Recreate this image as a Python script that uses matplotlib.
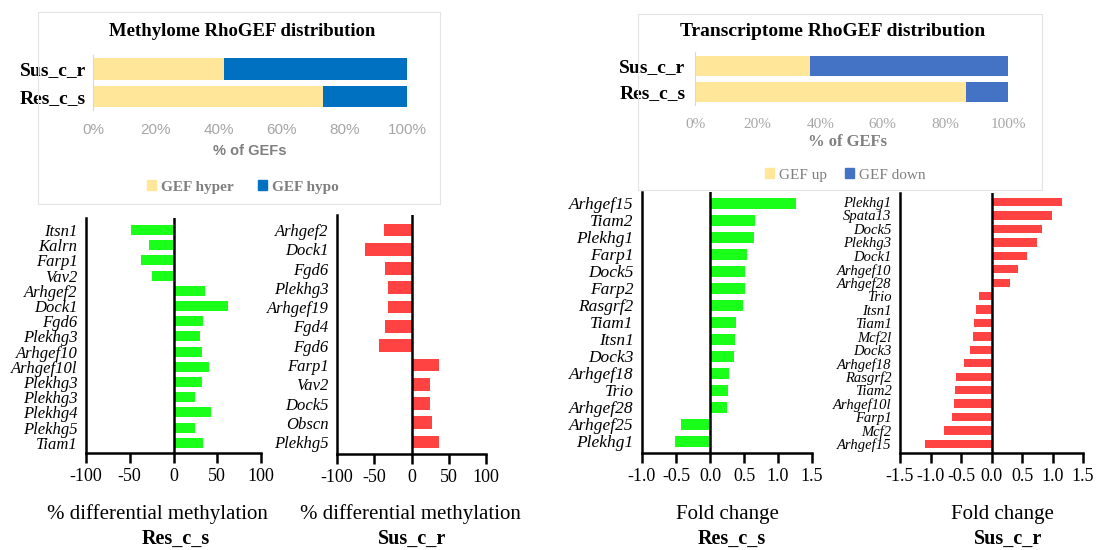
import matplotlib
matplotlib.use("Agg")
import matplotlib.pyplot as plt
from matplotlib.patches import Rectangle, Patch

W, H = 1098, 550
SERIF = "Liberation Serif"
SANS = "Liberation Sans"

# ---- summary distributions (% of GEFs) ----
groups = ["Res_c_s", "Sus_c_r"]
methyl_hyper = [73.3, 41.7]
methyl_hypo = [26.7, 58.3]
trans_up = [86.7, 36.8]
trans_down = [13.3, 63.2]
pct_ticks = [0, 20, 40, 60, 80, 100]

# ---- differential methylation, Res_c_s ----
res_meth_genes = ["Itsn1", "Kalrn", "Farp1", "Vav2", "Arhgef2", "Dock1", "Fgd6",
                  "Plekhg3", "Arhgef10", "Arhgef10l", "Plekhg3", "Plekhg3",
                  "Plekhg4", "Plekhg5", "Tiam1"]
res_meth_vals = [-49, -28, -37, -25, 36, 62, 34, 30.5, 33, 41, 33, 25, 43, 25, 34]

# ---- differential methylation, Sus_c_r ----
sus_meth_genes = ["Arhgef2", "Dock1", "Fgd6", "Plekhg3", "Arhgef19", "Fgd4", "Fgd6",
                  "Farp1", "Vav2", "Dock5", "Obscn", "Plekhg5"]
sus_meth_vals = [-37, -62, -35, -31, -31.5, -35.5, -43, 36.5, 24.5, 24.5, 28, 36.5]

# ---- fold change, Res_c_s ----
res_fc_genes = ["Arhgef15", "Tiam2", "Plekhg1", "Farp1", "Dock5", "Farp2", "Rasgrf2",
                "Tiam1", "Itsn1", "Dock3", "Arhgef18", "Trio", "Arhgef28",
                "Arhgef25", "Plekhg1"]
res_fc_vals = [1.26, 0.66, 0.65, 0.55, 0.52, 0.51, 0.49, 0.38, 0.37, 0.35,
               0.28, 0.27, 0.245, -0.43, -0.51]

# ---- fold change, Sus_c_r ----
sus_fc_genes = ["Plekhg1", "Spata13", "Dock5", "Plekhg3", "Dock1", "Arhgef10",
                "Arhgef28", "Trio", "Itsn1", "Tiam1", "Mcf2l", "Dock3", "Arhgef18",
                "Rasgrf2", "Tiam2", "Arhgef10l", "Farp1", "Mcf2", "Arhgef15"]
sus_fc_vals = [1.16, 0.99, 0.83, 0.74, 0.59, 0.43, 0.31, -0.20, -0.26, -0.29,
               -0.31, -0.36, -0.45, -0.58, -0.60, -0.61, -0.64, -0.78, -1.09]

YELLOW = "#ffe699"
BLUE_M = "#0070c0"
BLUE_T = "#4472c4"
GREEN = "#19ff19"
RED = "#ff4343"
GRAY_TXT = "#a6a6a6"
GRAY_LBL = "#7f7f7f"

fig = plt.figure(figsize=(W / 100, H / 100), dpi=100)
fig.patch.set_facecolor("white")


def px_axes(x0, y0, x1, y1):
    return fig.add_axes([x0 / W, 1 - y1 / H, (x1 - x0) / W, (y1 - y0) / H])


def fx(x):
    return x / W


def fy(y):
    return 1 - y / H


def frame(x0, y0, x1, y1):
    fig.patches.append(Rectangle((fx(x0), fy(y1)), (x1 - x0) / W, (y1 - y0) / H,
                                 transform=fig.transFigure, fill=False,
                                 edgecolor="#e3e3e3", lw=0.8))


def stacked(ax, first, second, c2, ylim, tick_family, tick_pad):
    pos = [0, 1]
    ax.barh(pos, first, height=0.78, color=YELLOW, edgecolor="none")
    ax.barh(pos, second, left=first, height=0.78, color=c2, edgecolor="none")
    ax.set_xlim(0, 100)
    ax.set_ylim(*ylim)
    ax.set_yticks(pos)
    ax.set_yticklabels(groups, fontfamily=SERIF, fontweight="bold", fontsize=14)
    ax.set_xticks(pct_ticks)
    ax.set_xticklabels([f"{t}%" for t in pct_ticks], fontfamily=tick_family,
                       fontsize=11, color=GRAY_TXT)
    ax.tick_params(axis="both", length=0)
    ax.tick_params(axis="y", pad=tick_pad)
    ax.tick_params(axis="x", pad=9)
    for s in ["top", "right", "bottom"]:
        ax.spines[s].set_visible(False)
    ax.spines["left"].set_color("#d9d9d9")
    ax.spines["left"].set_linewidth(0.8)


# ---- Methylome summary ----
frame(38, 12, 440, 204)
ax = px_axes(93, 55, 407, 110)
stacked(ax, methyl_hyper, methyl_hypo, BLUE_M, (-0.49, 1.51), SANS, 5)
fig.text(fx(242), fy(31), "Methylome RhoGEF distribution", fontfamily=SERIF,
         fontweight="bold", fontsize=13.5, ha="center", va="center")
fig.text(fx(250), fy(151), "% of GEFs", fontfamily=SANS, fontweight="bold",
         fontsize=10.5, color=GRAY_LBL, ha="center", va="center")
leg = fig.legend(handles=[Patch(color=YELLOW, label="GEF hyper"),
                          Patch(color=BLUE_M, label="GEF hypo")],
                 loc="center", bbox_to_anchor=(fx(243), fy(187)), ncol=2,
                 frameon=False, handlelength=0.6, handleheight=0.6,
                 handletextpad=0.3, columnspacing=1.6,
                 prop={"family": SERIF, "weight": "bold", "size": 11})
for t in leg.get_texts():
    t.set_color(GRAY_LBL)

# ---- Transcriptome summary ----
frame(638, 14, 1042, 190)
ax = px_axes(695, 52, 1008, 105)
stacked(ax, trans_up, trans_down, BLUE_T, (-0.5, 1.54), SERIF, 7)
fig.text(fx(833), fy(31), "Transcriptome RhoGEF distribution", fontfamily=SERIF,
         fontweight="bold", fontsize=14, ha="center", va="center")
fig.text(fx(848), fy(142), "% of GEFs", fontfamily=SERIF, fontweight="bold",
         fontsize=12, color=GRAY_LBL, ha="center", va="center")
leg = fig.legend(handles=[Patch(color=YELLOW, label="GEF up"),
                          Patch(color=BLUE_T, label="GEF down")],
                 loc="center", bbox_to_anchor=(fx(845), fy(175)), ncol=2,
                 frameon=False, handlelength=0.6, handleheight=0.6,
                 handletextpad=0.3, columnspacing=1.2,
                 prop={"family": SERIF, "size": 11})
for t in leg.get_texts():
    t.set_color(GRAY_LBL)


# ---- diverging gene bar panels ----
def gene_panel(box, genes, vals, color, xlim, xticks, xticklabels, ylim,
               height, label_size, xlabel, group, label_x, group_x):
    ax = px_axes(*box)
    pos = list(range(len(genes)))
    ax.barh(pos, vals, height=height, color=color, edgecolor="none")
    ax.axvline(0, color="black", lw=1.8, zorder=3)
    ax.set_xlim(*xlim)
    ax.set_ylim(*ylim)
    ax.set_yticks(pos)
    ax.set_yticklabels(genes, fontfamily=SERIF, fontstyle="italic",
                       fontsize=label_size)
    ax.tick_params(axis="y", length=0, pad=6)
    ax.set_xticks(xticks)
    ax.set_xticklabels(xticklabels, fontfamily=SERIF, fontsize=13)
    ax.tick_params(axis="x", direction="out", length=7, width=1.8, pad=4)
    for s in ["top", "right"]:
        ax.spines[s].set_visible(False)
    for s in ["left", "bottom"]:
        ax.spines[s].set_linewidth(1.8)
    fig.text(fx(label_x), fy(514), xlabel, fontfamily=SERIF, fontsize=15,
             ha="center", va="center")
    fig.text(fx(group_x), fy(539), group, fontfamily=SERIF, fontweight="bold",
             fontsize=14.5, ha="center", va="center")


gene_panel((86, 218, 261, 453), res_meth_genes, res_meth_vals, GREEN,
           (-100, 100), [-100, -50, 0, 50, 100], ["-100", "-50", "0", "50", "100"],
           (14.67, -0.79), 0.66, 12, "% differential methylation", "Res_c_s", 157, 176)

gene_panel((337, 215, 486, 454), sus_meth_genes, sus_meth_vals, RED,
           (-100, 100), [-100, -50, 0, 50, 100], ["-100", "-50", "0", "50", "100"],
           (11.62, -0.78), 0.66, 12, "% differential methylation", "Sus_c_r", 410, 412)

gene_panel((642, 192, 812, 453), res_fc_genes, res_fc_vals, GREEN,
           (-1.0, 1.5), [-1.0, -0.5, 0.0, 0.5, 1.0, 1.5],
           ["-1.0", "-0.5", "0.0", "0.5", "1.0", "1.5"],
           (14.7, -0.65), 0.65, 12.5, "Fold change", "Res_c_s", 727, 732)

gene_panel((900, 193, 1083, 453), sus_fc_genes, sus_fc_vals, RED,
           (-1.5, 1.5), [-1.5, -1.0, -0.5, 0.0, 0.5, 1.0, 1.5],
           ["-1.5", "-1.0", "-0.5", "0.0", "0.5", "1.0", "1.5"],
           (18.67, -0.67), 0.62, 10.5, "Fold change", "Sus_c_r", 1002, 1008)

fig.savefig("out.png", dpi=100, facecolor="white")
